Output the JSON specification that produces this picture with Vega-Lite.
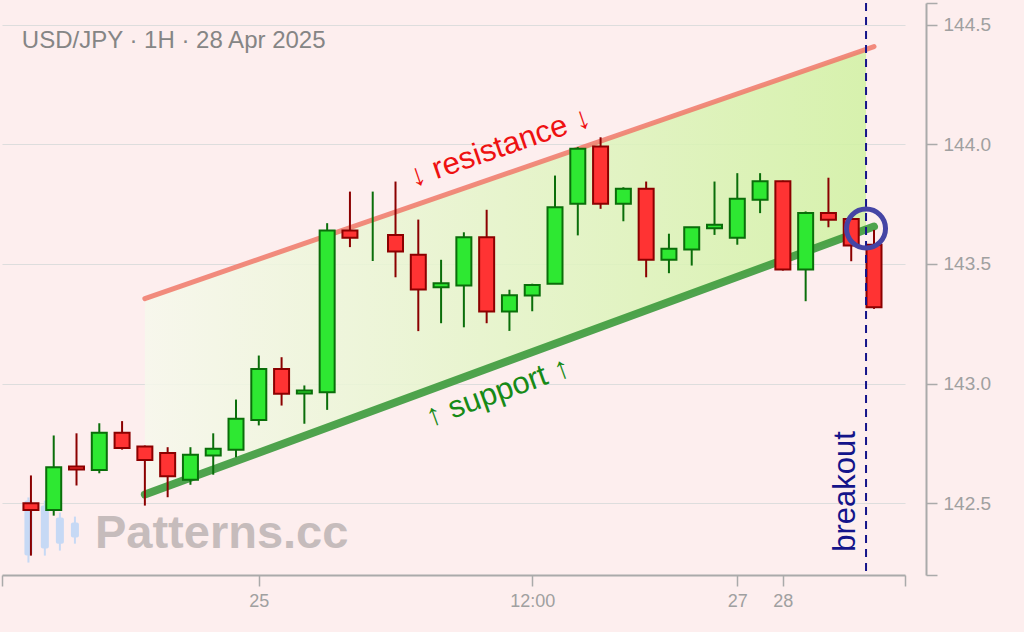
{
  "$schema": "https://vega.github.io/schema/vega-lite/v6.json",
  "description": "USD/JPY hourly candles with an ascending channel and a breakout below support.",
  "width": 903,
  "height": 572,
  "autosize": "none",
  "padding": {"left": 2, "top": 3, "right": 119, "bottom": 57},
  "background": "#fdeeee",
  "config": {
    "view": {"stroke": null},
    "font": "Liberation Sans",
    "axis": {"title": null}
  },
  "datasets": {
    "candles": [
      {"i": 0, "open": 142.500, "high": 142.616, "low": 142.281, "close": 142.472},
      {"i": 1, "open": 142.472, "high": 142.783, "low": 142.448, "close": 142.650},
      {"i": 2, "open": 142.653, "high": 142.792, "low": 142.574, "close": 142.641},
      {"i": 3, "open": 142.639, "high": 142.834, "low": 142.625, "close": 142.794},
      {"i": 4, "open": 142.794, "high": 142.843, "low": 142.724, "close": 142.731},
      {"i": 5, "open": 142.737, "high": 142.741, "low": 142.490, "close": 142.681},
      {"i": 6, "open": 142.710, "high": 142.734, "low": 142.525, "close": 142.613},
      {"i": 7, "open": 142.598, "high": 142.734, "low": 142.577, "close": 142.702},
      {"i": 8, "open": 142.699, "high": 142.792, "low": 142.619, "close": 142.727},
      {"i": 9, "open": 142.723, "high": 142.933, "low": 142.692, "close": 142.853},
      {"i": 10, "open": 142.848, "high": 143.117, "low": 142.825, "close": 143.061},
      {"i": 11, "open": 143.061, "high": 143.110, "low": 142.908, "close": 142.957},
      {"i": 12, "open": 142.958, "high": 142.992, "low": 142.832, "close": 142.971},
      {"i": 13, "open": 142.964, "high": 143.670, "low": 142.890, "close": 143.639},
      {"i": 14, "open": 143.639, "high": 143.802, "low": 143.570, "close": 143.609},
      {"i": 15, "open": 143.560, "high": 143.802, "low": 143.512, "close": 143.560},
      {"i": 16, "open": 143.621, "high": 143.844, "low": 143.444, "close": 143.552},
      {"i": 17, "open": 143.538, "high": 143.685, "low": 143.219, "close": 143.393},
      {"i": 18, "open": 143.402, "high": 143.517, "low": 143.252, "close": 143.419},
      {"i": 19, "open": 143.410, "high": 143.632, "low": 143.235, "close": 143.611},
      {"i": 20, "open": 143.611, "high": 143.726, "low": 143.252, "close": 143.301},
      {"i": 21, "open": 143.301, "high": 143.392, "low": 143.220, "close": 143.369},
      {"i": 22, "open": 143.368, "high": 143.417, "low": 143.302, "close": 143.412},
      {"i": 23, "open": 143.417, "high": 143.869, "low": 143.417, "close": 143.737},
      {"i": 24, "open": 143.751, "high": 143.988, "low": 143.619, "close": 143.981},
      {"i": 25, "open": 143.990, "high": 144.029, "low": 143.730, "close": 143.751},
      {"i": 26, "open": 143.751, "high": 143.820, "low": 143.678, "close": 143.814},
      {"i": 27, "open": 143.814, "high": 143.844, "low": 143.444, "close": 143.517},
      {"i": 28, "open": 143.517, "high": 143.626, "low": 143.461, "close": 143.563},
      {"i": 29, "open": 143.560, "high": 143.653, "low": 143.493, "close": 143.653},
      {"i": 30, "open": 143.649, "high": 143.844, "low": 143.621, "close": 143.663},
      {"i": 31, "open": 143.609, "high": 143.879, "low": 143.580, "close": 143.772},
      {"i": 32, "open": 143.768, "high": 143.879, "low": 143.712, "close": 143.845},
      {"i": 33, "open": 143.845, "high": 143.848, "low": 143.472, "close": 143.476},
      {"i": 34, "open": 143.476, "high": 143.719, "low": 143.344, "close": 143.713},
      {"i": 35, "open": 143.713, "high": 143.860, "low": 143.653, "close": 143.684},
      {"i": 36, "open": 143.688, "high": 143.702, "low": 143.511, "close": 143.577},
      {"i": 37, "open": 143.580, "high": 143.642, "low": 143.312, "close": 143.319}
    ],
    "logo": [
      {"i": -0.11, "open": 142.511, "high": 142.524, "low": 142.252, "close": 142.281},
      {"i": 0.61, "open": 142.490, "high": 142.511, "low": 142.281, "close": 142.311},
      {"i": 1.27, "open": 142.440, "high": 142.461, "low": 142.302, "close": 142.331},
      {"i": 1.93, "open": 142.419, "high": 142.444, "low": 142.331, "close": 142.357}
    ]
  },
  "layer": [
    {
      "data": {"values": [
        {"i": 5, "lower": 142.536, "upper": 143.355},
        {"i": 36.65, "lower": 143.644, "upper": 144.397}
      ]},
      "mark": {
        "type": "area",
        "opacity": 0.85,
        "color": {
          "gradient": "linear", "x1": 0, "y1": 0, "x2": 1, "y2": 0,
          "stops": [
            {"offset": 0, "color": "#f6f8ec"},
            {"offset": 1, "color": "#d0f2a2"}
          ]
        }
      },
      "encoding": {
        "x": {
          "field": "i", "type": "quantitative",
          "scale": {"domain": [-1.27, 38.36], "nice": false, "zero": false, "padding": 0},
          "axis": {
            "orient": "bottom",
            "grid": false,
            "values": [-1.27, 10, 22, 31, 33, 38.36],
            "labelExpr": "datum.value == 10 ? '25' : datum.value == 22 ? '12:00' : datum.value == 31 ? '27' : datum.value == 33 ? '28' : ''",
            "domainColor": "#aaaaaa", "domainWidth": 2,
            "tickColor": "#aaaaaa", "tickWidth": 1.5, "tickSize": 11,
            "labelColor": "#a0a0a0", "labelFontSize": 18, "labelPadding": 6
          }
        },
        "y": {
          "field": "lower", "type": "quantitative",
          "scale": {"domain": [142.2, 144.59], "nice": false, "zero": false, "padding": 0},
          "axis": {
            "orient": "right",
            "offset": 21,
            "values": [142.2, 142.5, 143, 143.5, 144, 144.5, 144.59],
            "labelExpr": "(datum.value < 142.3 || datum.value > 144.55) ? '' : format(datum.value, '.1f')",
            "gridColor": {"condition": {"test": "datum.value < 142.3 || datum.value > 144.55", "value": "rgba(0,0,0,0)"}, "value": "#dddddd"},
            "domainColor": "#aaaaaa", "domainWidth": 2,
            "tickColor": "#aaaaaa", "tickWidth": 1.5, "tickSize": 11,
            "labelColor": "#a0a0a0", "labelFontSize": 19, "labelPadding": 6
          }
        },
        "y2": {"field": "upper"}
      }
    },
    {
      "data": {"values": [{"i": 5, "v": 143.355}, {"i": 37, "v": 144.408}]},
      "mark": {"type": "line", "color": "#f07868", "strokeWidth": 5, "opacity": 0.85, "strokeCap": "round"},
      "encoding": {
        "x": {"field": "i", "type": "quantitative"},
        "y": {"field": "v", "type": "quantitative"}
      }
    },
    {
      "data": {"values": [{"i": 5, "v": 142.536}, {"i": 37, "v": 143.656}]},
      "mark": {"type": "line", "color": "#3c9a3c", "strokeWidth": 8, "opacity": 0.9, "strokeCap": "round"},
      "encoding": {
        "x": {"field": "i", "type": "quantitative"},
        "y": {"field": "v", "type": "quantitative"}
      }
    },
    {
      "data": {"name": "logo"},
      "mark": {"type": "rule", "color": "#c6d9f5", "strokeWidth": 2},
      "encoding": {
        "x": {"field": "i", "type": "quantitative"},
        "y": {"field": "low", "type": "quantitative"},
        "y2": {"field": "high"}
      }
    },
    {
      "data": {"name": "logo"},
      "mark": {"type": "bar", "color": "#c6d9f5", "width": 8, "cornerRadius": 2},
      "encoding": {
        "x": {"field": "i", "type": "quantitative"},
        "y": {"field": "open", "type": "quantitative"},
        "y2": {"field": "close"}
      }
    },
    {
      "data": {"values": [{"i": 2.81, "v": 142.373, "label": "Patterns.cc"}]},
      "mark": {"type": "text", "align": "left", "baseline": "middle", "fontSize": 47, "fontWeight": "bold", "color": "#c6bcbc"},
      "encoding": {
        "x": {"field": "i", "type": "quantitative"},
        "y": {"field": "v", "type": "quantitative"},
        "text": {"field": "label"}
      }
    },
    {
      "data": {"name": "candles"},
      "mark": {"type": "rule", "strokeWidth": 2},
      "encoding": {
        "x": {"field": "i", "type": "quantitative"},
        "y": {"field": "low", "type": "quantitative"},
        "y2": {"field": "high"},
        "color": {"condition": {"test": "datum.close >= datum.open", "value": "#0a6e0a"}, "value": "#8b0000"}
      }
    },
    {
      "data": {"name": "candles"},
      "transform": [{"filter": "datum.open != datum.close"}],
      "mark": {"type": "bar", "width": 15, "strokeWidth": 2},
      "encoding": {
        "x": {"field": "i", "type": "quantitative"},
        "y": {"field": "open", "type": "quantitative"},
        "y2": {"field": "close"},
        "fill": {"condition": {"test": "datum.close > datum.open", "value": "#2ee832"}, "value": "#ff3333"},
        "stroke": {"condition": {"test": "datum.close > datum.open", "value": "#0a6e0a"}, "value": "#8b0000"}
      }
    },
    {
      "data": {"values": [{"i": 36.65}]},
      "mark": {"type": "rule", "color": "#14148a", "strokeWidth": 2, "strokeDash": [8, 6]},
      "encoding": {
        "x": {"field": "i", "type": "quantitative"}
      }
    },
    {
      "data": {"values": [{"i": 36.65, "v": 143.648}]},
      "mark": {"type": "point", "shape": "circle", "size": 1520, "filled": false, "stroke": "#4545a5", "strokeWidth": 5, "opacity": 1},
      "encoding": {
        "x": {"field": "i", "type": "quantitative"},
        "y": {"field": "v", "type": "quantitative"}
      }
    },
    {
      "data": {"values": [{"i": 20.59, "v": 143.985, "label": "↓ resistance ↓"}]},
      "mark": {"type": "text", "align": "center", "baseline": "middle", "fontSize": 31, "angle": 341, "color": "#ee1111"},
      "encoding": {
        "x": {"field": "i", "type": "quantitative"},
        "y": {"field": "v", "type": "quantitative"},
        "text": {"field": "label"}
      }
    },
    {
      "data": {"values": [{"i": 20.5, "v": 142.962, "label": "↑ support ↑"}]},
      "mark": {"type": "text", "align": "center", "baseline": "middle", "fontSize": 31, "angle": 340, "color": "#178a17"},
      "encoding": {
        "x": {"field": "i", "type": "quantitative"},
        "y": {"field": "v", "type": "quantitative"},
        "text": {"field": "label"}
      }
    },
    {
      "data": {"values": [{"i": 35.78, "v": 142.549, "label": "breakout"}]},
      "mark": {"type": "text", "align": "center", "baseline": "middle", "fontSize": 31, "angle": 270, "color": "#14148a"},
      "encoding": {
        "x": {"field": "i", "type": "quantitative"},
        "y": {"field": "v", "type": "quantitative"},
        "text": {"field": "label"}
      }
    },
    {
      "data": {"values": [{"i": -0.4, "v": 144.43, "label": "USD/JPY · 1H · 28 Apr 2025"}]},
      "mark": {"type": "text", "align": "left", "baseline": "middle", "fontSize": 24, "color": "#858585"},
      "encoding": {
        "x": {"field": "i", "type": "quantitative"},
        "y": {"field": "v", "type": "quantitative"},
        "text": {"field": "label"}
      }
    }
  ]
}
